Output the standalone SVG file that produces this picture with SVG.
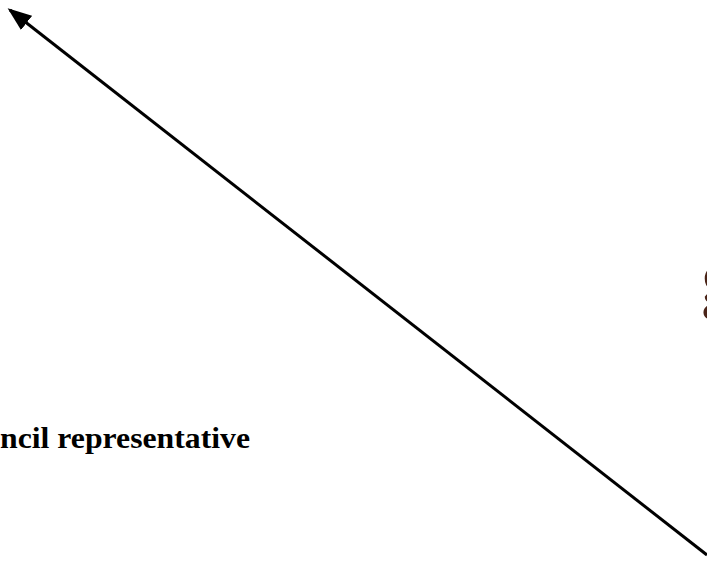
<svg xmlns="http://www.w3.org/2000/svg" width="707" height="563" viewBox="0 0 707 563">
<style>
.lbl{font-family:"Liberation Serif","Times New Roman",serif;font-weight:bold;font-size:30px;fill:#000}
.frag{font-family:"Liberation Serif","Times New Roman",serif;font-size:80px;fill:#4a2418}
.conn{stroke:#000;stroke-width:3;fill:none}
</style>
<defs>
<marker id="ah" markerWidth="8" markerHeight="6" refX="7" refY="3" orient="auto" markerUnits="strokeWidth">
<path d="M0,0 L8,3 L0,6 Z" fill="#000"/>
</marker>
</defs>
<rect width="707" height="563" fill="#fff"/>
<g id="connectors">
<line class="conn" x1="707" y1="555" x2="10" y2="10" marker-end="url(#ah)"/>
</g>
<g id="node-label">
<text class="lbl" x="0" y="448" textLength="250" lengthAdjust="spacingAndGlyphs">ncil representative</text>
</g>
<g id="node-fragment">
<text class="frag" x="700" y="304">g</text>
</g>
</svg>
